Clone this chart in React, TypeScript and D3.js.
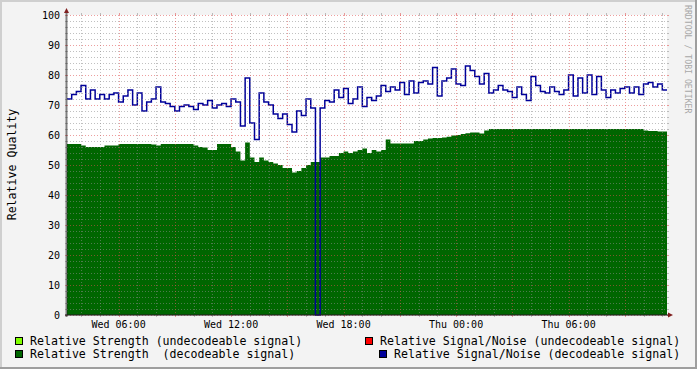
import React from "react";
import * as d3 from "d3";

// samples every 15 minutes, starting Wed 03:15 (local time)
const startTime = new Date(2024, 0, 3, 3, 15);
const sampleMinutes = 15;

// Relative Strength (decodeable signal)
const strengthDecodeable = [
  57, 57, 57, 56.5, 56, 56, 56, 56, 56.5, 56.5, 56.5, 57, 57, 57, 57, 57, 57, 57, 56.8, 56.5,
  57, 57, 57, 57, 57, 57, 57, 56.5, 56, 55.8, 55, 55, 57, 57, 57, 56, 54.5, 51.5, 57.5, 52.5,
  51, 52.5, 51.5, 51, 50.5, 50, 49, 49, 47.5, 48, 49, 50, 51, 51, 52.5, 52.5, 53, 53, 54, 54.5,
  54, 54.5, 55, 55.5, 54, 55, 54.5, 55, 58.5, 57.2, 57.2, 57.2, 57.2, 57.2, 58, 58, 58.5, 58.8, 59, 59,
  59.2, 59.4, 59.8, 60, 60.3, 60.6, 60.8, 60.8, 60.5, 61.5, 62, 62, 62, 62, 62, 62, 62, 62, 62, 62,
  62, 62, 62, 62, 62, 62, 62, 62, 62, 62, 62, 62, 62, 62, 62, 62, 62, 62, 62, 62,
  62, 62, 62, 61.5, 61.3, 61.3, 61.2, 61.2,
];

// Relative Signal/Noise (decodeable signal)
const snrDecodeable = [
  72, 73.5, 74.5, 76.5, 72, 75, 72, 73.5, 72, 73.5, 74, 71, 73, 75, 70, 74, 68, 71, 72, 76,
  71, 70.5, 69.5, 68, 69.5, 70, 69.5, 68.5, 70.5, 70, 71.5, 69, 70, 70.5, 69.5, 72, 71, 63, 79, 64,
  58.5, 74, 71, 70, 67, 65.5, 67, 63.5, 61, 68, 66.5, 72, 69, 0, 69, 71.5, 71, 75, 72.5, 75.5,
  70.5, 72, 76, 69.5, 72.5, 71.5, 73, 76.5, 74.5, 76, 75, 77.5, 73.5, 78, 74, 77.5, 78, 77, 82.5, 73,
  78, 79, 82, 77, 76.5, 83, 81.5, 79.5, 77, 80.5, 74, 75, 76.5, 75, 74.5, 72.5, 76, 73.5, 71.5, 79.5,
  76.5, 74.5, 74, 76, 74.5, 73.5, 75, 80, 73, 79, 74, 80, 73.5, 79.5, 75, 72.5, 75, 74, 75.5, 76,
  74, 76, 73.5, 77, 77.5, 76, 77, 75,
];

const yTicks = [0, 10, 20, 30, 40, 50, 60, 70, 80, 90, 100];

const legendLabels = [
  "Relative Strength (undecodeable signal)",
  "Relative Strength  (decodeable signal)",
  "Relative Signal/Noise (undecodeable signal)",
  "Relative Signal/Noise (decodeable signal)",
];
const legendColors = ["#80ff00", "#006600", "#ff0000", "#000099"];

const font = "'DejaVu Sans Mono', monospace";

type Pt = { t: Date; v: number };

export default function App() {
  const W = 697;
  const H = 369;
  const X0 = 67;
  const X1 = 667;
  const Y0 = 315;
  const Y1 = 15;

  const n = snrDecodeable.length;
  const endTime = d3.timeMinute.offset(startTime, n * sampleMinutes);
  const x = d3.scaleTime().domain([startTime, endTime]).range([X0, X1]);
  const y = d3.scaleLinear().domain([0, 100]).range([Y0, Y1]);

  const toPoints = (vals: number[]): Pt[] => {
    const pts = vals.map((v, i) => ({ t: d3.timeMinute.offset(startTime, i * sampleMinutes), v }));
    pts.push({ t: endTime, v: vals[vals.length - 1] });
    return pts;
  };

  const area = d3
    .area<Pt>()
    .x((d) => x(d.t))
    .y0(y(0))
    .y1((d) => y(d.v))
    .curve(d3.curveStepAfter);
  const line = d3
    .line<Pt>()
    .x((d) => x(d.t))
    .y((d) => y(d.v))
    .curve(d3.curveStepAfter);

  const hours = d3.timeHour.range(startTime, endTime);
  const majorX = hours.filter((h) => h.getHours() % 3 === 0);
  const minorX = hours.filter((h) => h.getHours() % 3 !== 0);
  const labelX = hours.filter((h) => h.getHours() % 6 === 0);
  const fmt = d3.timeFormat("%a %H:%M");
  const minorY = d3.range(2, 100, 2).filter((v) => v % 10 !== 0);

  const gridCol = "rgba(140,140,140,0.55)";
  const mgridCol = "rgba(222,79,79,0.55)";
  const dash = "1,2";
  const px = (v: number) => Math.round(v) + 0.5;

  const hLine = (v: number, col: string, key: string) => {
    const yy = px(y(v));
    return (
      <g key={key}>
        <line x1={X0 - 2} x2={X0} y1={yy} y2={yy} stroke={col} />
        <line x1={X1} x2={X1 + 2} y1={yy} y2={yy} stroke={col} />
        <line x1={X0} x2={X1} y1={yy} y2={yy} stroke={col} strokeDasharray={dash} />
      </g>
    );
  };
  const vLine = (t: Date, col: string, key: string) => {
    const xx = px(x(t));
    return (
      <g key={key}>
        <line x1={xx} x2={xx} y1={Y0} y2={Y0 + 2} stroke={col} />
        <line x1={xx} x2={xx} y1={Y1 - 2} y2={Y1} stroke={col} />
        <line x1={xx} x2={xx} y1={Y1} y2={Y0} stroke={col} strokeDasharray={dash} />
      </g>
    );
  };

  return (
    <svg
      width={W}
      height={H}
      style={{ position: "absolute", left: 0, top: 0, display: "block" }}
      fontFamily={font}
    >
      {/* background and 3d frame */}
      <rect x={0} y={0} width={W} height={H} fill="#f3f3f3" />
      <rect x={0} y={0} width={W} height={2} fill="#cfcfcf" />
      <rect x={0} y={0} width={2} height={H} fill="#cfcfcf" />
      <rect x={0} y={H - 2} width={W} height={2} fill="#9e9e9e" />
      <rect x={W - 2} y={0} width={2} height={H} fill="#9e9e9e" />

      {/* canvas */}
      <rect x={X0} y={Y1} width={X1 - X0} height={Y0 - Y1} fill="#ffffff" />

      {/* data */}
      <path d={area(toPoints(strengthDecodeable)) || ""} fill="#006600" />
      <path
        d={line(toPoints(snrDecodeable)) || ""}
        fill="none"
        stroke="#000099"
        strokeWidth={1.5}
      />

      {/* grid */}
      <g shapeRendering="crispEdges">
        {minorY.map((v) => hLine(v, gridCol, "hy" + v))}
        {minorX.map((t, i) => vLine(t, gridCol, "vx" + i))}
        {yTicks.map((v) => hLine(v, mgridCol, "my" + v))}
        {majorX.map((t, i) => vLine(t, mgridCol, "mx" + i))}
      </g>

      {/* axes */}
      <line x1={X0 - 0.5} x2={X0 - 0.5} y1={Y0 + 2} y2={Y1 - 4} stroke="#1f1f1f" strokeOpacity={0.55} strokeWidth={2} />
      <line x1={X0 - 2} x2={X1 + 4} y1={Y0} y2={Y0} stroke="#1f1f1f" strokeOpacity={0.55} strokeWidth={2} />
      <polygon points={`${X0 - 3},${Y1 - 2} ${X0 + 2},${Y1 - 2} ${X0 - 0.5},${Y1 - 7}`} fill="#801f1f" />
      <polygon points={`${X1 + 1},${Y0 - 2.5} ${X1 + 1},${Y0 + 2.5} ${X1 + 6},${Y0}`} fill="#801f1f" />

      {/* tick labels */}
      {yTicks.map((v) => (
        <text key={"yl" + v} x={60} y={y(v) + 4} fontSize={10} textAnchor="end" fill="#000">
          {v}
        </text>
      ))}
      {labelX.map((t, i) => (
        <text key={"xl" + i} x={x(t)} y={328} fontSize={10} textAnchor="middle" fill="#000">
          {fmt(t)}
        </text>
      ))}

      {/* axis title */}
      <text
        transform="translate(15.5,164.5) rotate(-90)"
        fontSize={11.6}
        textAnchor="middle"
        fill="#000"
      >
        Relative Quality
      </text>

      {/* watermark */}
      <text transform="translate(685,5) rotate(90)" fontSize={8.2} fill="#a8a8a8">
        RRDTOOL / TOBI OETIKER
      </text>

      {/* legend */}
      {[
        { bx: 15, tx: 30, by: 337, ty: 345 },
        { bx: 15, tx: 30, by: 350, ty: 358 },
        { bx: 365, tx: 380, by: 337, ty: 345 },
        { bx: 379, tx: 394, by: 350, ty: 358 },
      ].map((p, i) => (
        <g key={"lg" + i}>
          <rect x={p.bx + 0.5} y={p.by + 0.5} width={7} height={7} fill={legendColors[i]} stroke="#000" />
          <text x={p.tx} y={p.ty} fontSize={11.6} fill="#000" style={{ whiteSpace: "pre" }}>
            {legendLabels[i]}
          </text>
        </g>
      ))}
    </svg>
  );
}
